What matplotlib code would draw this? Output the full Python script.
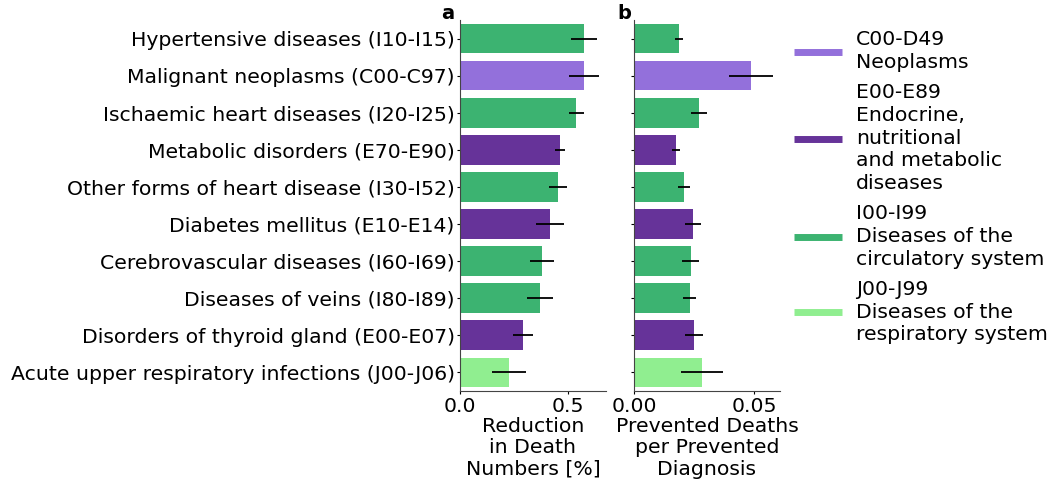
import matplotlib
matplotlib.use("Agg")
import matplotlib.pyplot as plt
from matplotlib.lines import Line2D

causes = [
    "Hypertensive diseases (I10-I15)",
    "Malignant neoplasms (C00-C97)",
    "Ischaemic heart diseases (I20-I25)",
    "Metabolic disorders (E70-E90)",
    "Other forms of heart disease (I30-I52)",
    "Diabetes mellitus (E10-E14)",
    "Cerebrovascular diseases (I60-I69)",
    "Diseases of veins (I80-I89)",
    "Disorders of thyroid gland (E00-E07)",
    "Acute upper respiratory infections (J00-J06)",
]
chapter = ["I", "C", "I", "E", "I", "E", "I", "I", "E", "J"]

reduction = [0.573, 0.573, 0.536, 0.461, 0.452, 0.415, 0.378, 0.369, 0.290, 0.225]
reduction_err = [0.062, 0.070, 0.035, 0.023, 0.040, 0.066, 0.056, 0.058, 0.045, 0.080]

deaths_per_diag = [0.0186, 0.0486, 0.0270, 0.0174, 0.0207, 0.0245, 0.0236, 0.0232, 0.0249, 0.0282]
deaths_err = [0.0017, 0.0091, 0.0034, 0.0016, 0.0024, 0.0035, 0.0035, 0.0027, 0.0038, 0.0087]

chapter_colors = {
    "C": "#9370DB",
    "E": "#663399",
    "I": "#3CB371",
    "J": "#90EE90",
}
chapter_labels = {
    "C": "C00-D49\nNeoplasms",
    "E": "E00-E89\nEndocrine,\nnutritional\nand metabolic\ndiseases",
    "I": "I00-I99\nDiseases of the\ncirculatory system",
    "J": "J00-J99\nDiseases of the\nrespiratory system",
}

plt.rcParams["font.size"] = 14.7
plt.rcParams["xtick.major.size"] = 2
plt.rcParams["ytick.major.size"] = 2
plt.rcParams["xtick.major.pad"] = 2
plt.rcParams["ytick.major.pad"] = 2

fig = plt.figure(figsize=(10.55, 4.83), dpi=100)
ax_a = fig.add_axes([0.4363, 0.1905, 0.1378, 0.7681])
ax_b = fig.add_axes([0.6012, 0.1905, 0.1378, 0.7681])

colors = [chapter_colors[c] for c in chapter]
ypos = list(range(len(causes)))

for ax, vals, errs in [(ax_a, reduction, reduction_err), (ax_b, deaths_per_diag, deaths_err)]:
    ax.barh(ypos, vals, height=0.8, color=colors)
    ax.errorbar(vals, ypos, xerr=errs, fmt="none", ecolor="black", elinewidth=1.3, capsize=0)
    ax.set_ylim(len(causes) - 0.5, -0.5)
    ax.spines["top"].set_visible(False)
    ax.spines["right"].set_visible(False)
    for s in ["left", "bottom"]:
        ax.spines[s].set_color("#444444")

ax_a.set_xlim(0, 0.673)
ax_a.set_xticks([0.0, 0.5])
ax_a.set_xticklabels(["0.0", "0.5"])
ax_a.set_yticks(ypos)
ax_a.set_yticklabels(causes)
ax_a.set_xlabel("Reduction\nin Death\nNumbers [%]", linespacing=1.16, labelpad=1)

ax_b.set_xlim(0, 0.0606)
ax_b.set_xticks([0.0, 0.05])
ax_b.set_xticklabels(["0.00", "0.05"])
ax_b.set_yticks(ypos)
ax_b.set_yticklabels([])
ax_b.set_xlabel("Prevented Deaths\nper Prevented\nDiagnosis", linespacing=1.16, labelpad=1)

fig.text(0.418, 0.96, "a", fontweight="bold", fontsize=14)
fig.text(0.585, 0.96, "b", fontweight="bold", fontsize=14)

handles = [Line2D([0], [0], color=chapter_colors[k], lw=5, solid_capstyle="butt")
           for k in ["C", "E", "I", "J"]]
labels = [chapter_labels[k] for k in ["C", "E", "I", "J"]]
leg = fig.legend(handles, labels, loc="upper left", bbox_to_anchor=(0.735, 0.975),
                 frameon=False, handlelength=2.35, handletextpad=0.69, labelspacing=0.54)
for t in leg.get_texts():
    t.set_linespacing(1.25)

fig.savefig("out.png", dpi=100)
